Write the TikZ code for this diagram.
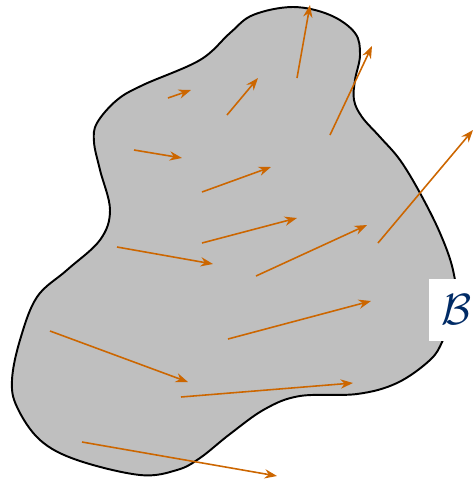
\documentclass[tikz,border=0pt]{standalone}
\usepackage{amsmath,amssymb}
\usepackage{xcolor}
\usepackage{tikz}
\usetikzlibrary{arrows.meta}
\definecolor{vecorange}{RGB}{204,102,0}
\definecolor{bodyblue}{RGB}{0,43,102}
\tikzset{vec/.style={->,vecorange,line width=0.9pt}}

\begin{document}
\begin{tikzpicture}[>=Stealth,x=0.02cm,y=-0.02cm]
\useasboundingbox (0,0) rectangle (475,484);
% body
\draw[line width=1.1pt,fill=black!25] plot[smooth cycle,tension=0.6] coordinates {
 (293,7) (330,15) (355,33) (360,55) (355,80) (354,100) (362,117) (380,137) (400,160)
 (420,193) (440,233) (453,270) (456,305) (443,340) (430,360) (397,383) (357,394)
 (300,396) (265,409) (230,434) (200,458) (177,470) (140,475) (77,460) (40,440)
 (17,407) (12,380) (20,340) (37,297) (67,270) (100,240) (110,210) (100,170)
 (94,142) (97,123) (117,100) (143,85) (200,60) (230,33) (253,15)};
\node[fill=white,inner sep=0pt,minimum width=32pt,minimum height=35pt,text=bodyblue,
 font=\fontsize{34}{36}\selectfont] (B) at (457,310) {$\mathcal{B}$};
% vector field
\coordinate (a1) at (168,98);  \coordinate (b1) at (191,90);
\coordinate (a2) at (227,115); \coordinate (b2) at (258,78);
\coordinate (a3) at (297,78);  \coordinate (b3) at (310,5);
\coordinate (a4) at (330,135); \coordinate (b4) at (372,46);
\coordinate (a5) at (378,243); \coordinate (b5) at (473,130);
\coordinate (a6) at (134,150); \coordinate (b6) at (182,158);
\coordinate (a7) at (202,192); \coordinate (b7) at (271,167);
\coordinate (a8) at (202,243); \coordinate (b8) at (297,218);
\coordinate (a9) at (117,247); \coordinate (b9) at (213,264);
\coordinate (a10) at (256,276); \coordinate (b10) at (367,225);
\coordinate (a11) at (228,339); \coordinate (b11) at (371,301);
\coordinate (a12) at (50,331); \coordinate (b12) at (188,382);
\coordinate (a13) at (181,397); \coordinate (b13) at (353,383);
\coordinate (a14) at (82,442); \coordinate (b14) at (277,476);
\draw[vec] (a1)--(b1); \draw[vec] (a2)--(b2); \draw[vec] (a3)--(b3);
\draw[vec] (a4)--(b4); \draw[vec] (a5)--(b5); \draw[vec] (a6)--(b6);
\draw[vec] (a7)--(b7); \draw[vec] (a8)--(b8); \draw[vec] (a9)--(b9);
\draw[vec] (a10)--(b10); \draw[vec] (a11)--(b11); \draw[vec] (a12)--(b12);
\draw[vec] (a13)--(b13); \draw[vec] (a14)--(b14);
\end{tikzpicture}
\end{document}
